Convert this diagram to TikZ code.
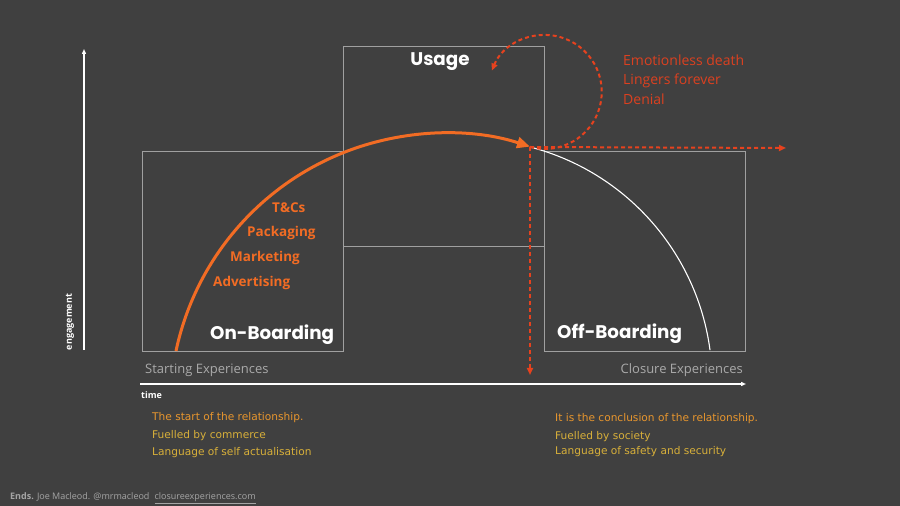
\documentclass[tikz,border=0pt]{standalone}
\usepackage{fontspec}
\setmainfont{Open Sans}
\newfontfamily\titlefont{Poppins}
\newfontfamily\yfont{DejaVu Sans}
\usetikzlibrary{arrows.meta}
\definecolor{bg}{RGB}{64,64,64}
\definecolor{boxgray}{RGB}{160,160,160}
\definecolor{arcorange}{RGB}{242,108,36}
\definecolor{dashred}{RGB}{230,66,30}
\definecolor{textred}{RGB}{220,64,32}
\definecolor{lineorange}{RGB}{232,150,46}
\definecolor{lineyellow}{RGB}{216,176,58}
\definecolor{softgray}{RGB}{170,170,170}
\definecolor{footgray}{RGB}{165,165,165}
\tikzset{
  stagebox/.style={draw=boxgray, line width=0.9pt},
  axisline/.style={draw=white, line width=1.3pt, -{Triangle[length=5pt,width=4pt]}},
  reddash/.style={draw=dashred, line width=2pt, dash pattern=on 4pt off 3pt, -{Triangle[length=7pt,width=6pt]}},
  stagetitle/.style={text=white, font=\titlefont\bfseries\fontsize{18.3}{22}\selectfont, inner sep=0pt},
  sublabel/.style={text=softgray, font=\fontsize{13}{15}\selectfont, inner sep=0pt},
  orangelabel/.style={text=arcorange, font=\bfseries\fontsize{13.5}{16}\selectfont, inner sep=0pt, anchor=mid west},
  redlabel/.style={text=textred, font=\fontsize{14}{16}\selectfont, inner sep=0pt, anchor=mid west},
  ylabel/.style={font=\yfont\fontsize{10.6}{12}\selectfont, inner sep=0pt, anchor=mid west},
  axislabel/.style={text=white, font=\bfseries\fontsize{9}{10}\selectfont, inner sep=0pt}
}
\begin{document}
\begin{tikzpicture}[x=1pt,y=1pt]
\fill[bg] (0,0) rectangle (900,506);
\useasboundingbox (0,0) rectangle (900,506);

% axes
\coordinate (yaxb) at (84,156);
\coordinate (yaxt) at (84,457);
\coordinate (xaxl) at (140,122);
\coordinate (xaxr) at (746,122);
\draw[axisline] (yaxb) -- (yaxt);
\draw[axisline] (xaxl) -- (xaxr);
\node[axislabel, rotate=90] (engage) at (70,184) {engagement};
\node[axislabel, anchor=mid west] (timel) at (141,110) {time};

% stage boxes
\draw[stagebox] (142,155) rectangle (343,355);
\draw[stagebox] (343,260) rectangle (544,460);
\draw[stagebox] (544,155) rectangle (745,355);

% curves
\coordinate (start) at (176,155);
\coordinate (tip) at (530,359);
\draw[draw=white, line width=1.1pt] (tip) arc[start angle=75.5, end angle=7.6, radius=243pt];
\draw[draw=arcorange, line width=3pt, -{Triangle[length=13pt,width=11pt]}] (start) arc[start angle=168, end angle=72, radius=275pt];

% red dashed
\coordinate (downend) at (530,131);
\coordinate (rightend) at (786,358);
\draw[reddash] (tip) -- (downend);
\draw[reddash] (tip) -- (rightend);
\draw[reddash] (tip) arc[start angle=-105, end angle=158, radius=57pt];

% titles
\node[stagetitle] (usage) at (440,444) {Usage};
\node[stagetitle, anchor=base west] (onb) at (210,166) {On-Boarding};
\node[stagetitle, anchor=base west] (offb) at (557,167) {Off-Boarding};
\node[sublabel, anchor=mid west] (startexp) at (145,135.5) {Starting Experiences};
\node[sublabel, anchor=mid east] (closexp) at (743,135.5) {Closure Experiences};

% orange labels
\node[orangelabel] (tcs) at (272,296.5) {T\&Cs};
\node[orangelabel] (pack) at (247,272.5) {Packaging};
\node[orangelabel] (mark) at (230,247.5) {Marketing};
\node[orangelabel] (adv) at (213,222.5) {Advertising};

% red labels
\node[redlabel] (emo) at (623,443.5) {Emotionless death};
\node[redlabel] (ling) at (623,424.5) {Lingers forever};
\node[redlabel] (den) at (623,404.5) {Denial};

% bottom texts
\node[ylabel, text=lineorange] (l1) at (152,88.5) {The start of the relationship.};
\node[ylabel, text=lineyellow] (l2) at (152,70.5) {Fuelled by commerce};
\node[ylabel, text=lineyellow] (l3) at (152,53.5) {Language of self actualisation};
\node[ylabel, text=lineorange] (r1) at (555,87.5) {It is the conclusion of the relationship.};
\node[ylabel, text=lineyellow] (r2) at (555,69.5) {Fuelled by society};
\node[ylabel, text=lineyellow] (r3) at (555,54.5) {Language of safety and security};

% footer
\node[text=footgray, font=\fontsize{9}{11}\selectfont, inner sep=0pt, anchor=mid west] (foot) at (10,9.5)
  {\textbf{Ends.} Joe Macleod. @mrmacleod\hspace{5pt}\underline{closureexperiences.com}};
\end{tikzpicture}
\end{document}
